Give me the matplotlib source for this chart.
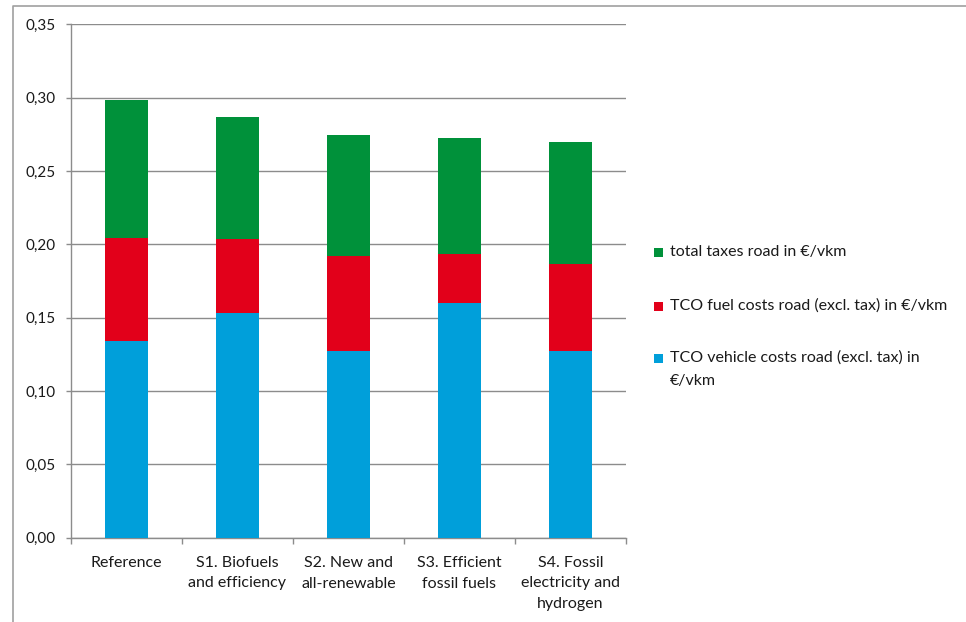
import matplotlib
matplotlib.use("Agg")
import matplotlib.pyplot as plt
from matplotlib.patches import Rectangle
from matplotlib.lines import Line2D
import numpy as np

# Scenario data (EUR per vehicle-km)
categories = [
    "Reference",
    "S1. Biofuels\nand efficiency",
    "S2. New and\nall-renewable",
    "S3. Efficient\nfossil fuels",
    "S4. Fossil\nelectricity and\nhydrogen",
]
vehicle_costs = [0.134, 0.153, 0.127, 0.160, 0.127]
fuel_costs = [0.0705, 0.0505, 0.065, 0.0335, 0.0595]
taxes = [0.094, 0.083, 0.0825, 0.079, 0.083]

series_labels = [
    "TCO vehicle costs road (excl. tax) in\n€/vkm",
    "TCO fuel costs road (excl. tax) in €/vkm",
    "total taxes road in €/vkm",
]
colors = ["#009FDA", "#E2001A", "#00913A"]

yticks = [0.00, 0.05, 0.10, 0.15, 0.20, 0.25, 0.30, 0.35]

plt.rcParams["font.family"] = ["Lato", "DejaVu Sans"]
TEXT = "#1a1a1a"
GRID = "#8c8c8c"
FS = 11.5

W, H = 966, 622
fig = plt.figure(figsize=(W / 100, H / 100), dpi=100)


def fx(px):
    return px / W


def fy(py):
    return 1 - py / H


ax = fig.add_axes([fx(71), fy(537.7), fx(626) - fx(71), fy(24.3) - fy(537.7)])

x = np.arange(len(categories))
bw = 0.394
bottom = np.zeros(len(categories))
for vals, col in zip([vehicle_costs, fuel_costs, taxes], colors):
    ax.bar(x, vals, width=bw, bottom=bottom, color=col, linewidth=0, zorder=3)
    bottom += np.array(vals)

ax.set_xlim(-0.5, len(categories) - 0.5)
ax.set_ylim(0, 0.35)
ax.set_yticks(yticks)
ax.set_yticklabels([f"{v:.2f}".replace(".", ",") for v in yticks])
ax.yaxis.grid(True, color=GRID, linewidth=1.0, zorder=0)
ax.set_axisbelow(True)

ax.set_xticks(x)
ax.set_xticklabels(categories, linespacing=1.55)
ax.set_xticks(np.arange(-0.5, len(categories)), minor=True)
ax.tick_params(axis="x", which="major", length=0, pad=13.5, labelsize=FS, labelcolor=TEXT)
ax.tick_params(axis="x", which="minor", length=4.5, width=1, color=GRID, direction="out")
ax.tick_params(axis="y", length=3.3, width=1, color=GRID, pad=8, labelsize=11, labelcolor=TEXT)

for s in ["top", "right"]:
    ax.spines[s].set_visible(False)
for s in ["left", "bottom"]:
    ax.spines[s].set_color(GRID)
    ax.spines[s].set_linewidth(1.0)

# Legend drawn beside the plot area
legend_rows = [
    (colors[2], ["total taxes road in €/vkm"], 252),
    (colors[1], ["TCO fuel costs road (excl. tax) in €/vkm"], 306),
    (colors[0], series_labels[0].split("\n"), 358),
]
for col, lines, yc in legend_rows:
    fig.add_artist(Rectangle((fx(654), fy(yc + 4.5)), fx(9), fy(0) - fy(9),
                             transform=fig.transFigure, facecolor=col, edgecolor="none"))
    for i, line in enumerate(lines):
        fig.text(fx(669.5), fy(yc + i * 23), line, ha="left", va="center",
                 fontsize=FS, color=TEXT)

# Chart frame
fig.add_artist(Line2D([fx(12.5), fx(12.5), fx(966)], [fy(622), fy(5.5), fy(5.5)],
                      transform=fig.transFigure, color="#a0a0a0", linewidth=1.2))

fig.savefig("out.png", dpi=100, facecolor="white")
